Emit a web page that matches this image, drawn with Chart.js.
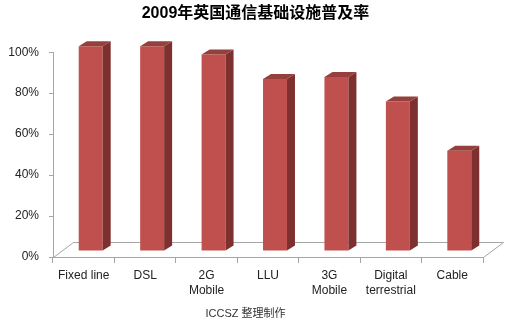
<!DOCTYPE html>
<html>
<head>
<meta charset="utf-8">
<script src="https://cdn.jsdelivr.net/npm/chart.js@4/dist/chart.umd.min.js"></script>
<style>
  html, body { margin: 0; padding: 0; background: #fff; }
  #wrap { width: 511px; height: 326px; }
</style>
</head>
<body>
<div id="wrap"><canvas id="c" width="511" height="326"></canvas></div>
<script>
/* data */
const CATEGORIES = [['Fixed line'], ['DSL'], ['2G', 'Mobile'], ['LLU'], ['3G', 'Mobile'], ['Digital', 'terrestrial'], ['Cable']];
const PENETRATION = [100, 100, 96, 84, 85, 73, 49];
const Y_TICKS = [0, 20, 40, 60, 80, 100];
const TITLE = '2009年英国通信基础设施普及率';
const SOURCE = 'ICCSZ 整理制作';

const FRONT = '#C0504D', TOP = '#96403D', SIDE = '#7E302E';
const GRID = '#A6A6A6';
const FONT = '"Liberation Sans", Arial, "Noto Sans CJK SC", sans-serif';

// fake 3D: floor depth + bar depth
const FLOOR = { dx: 20, dy: 15 };
const BAR_SHIFT = { dx: 7, dy: -6 };
const BAR_DEPTH = { dx: 8, dy: -5 };

const threeD = {
  id: 'threeD',
  beforeDatasetsDraw(chart) {
    const { ctx, chartArea: a } = chart;
    ctx.save();
    ctx.strokeStyle = GRID;
    ctx.lineWidth = 1;
    ctx.beginPath();
    ctx.moveTo(a.left + 0.5, a.bottom + 0.5);
    ctx.lineTo(a.left + FLOOR.dx + 0.5, a.bottom - FLOOR.dy + 0.5);
    ctx.lineTo(a.right + FLOOR.dx + 0.5, a.bottom - FLOOR.dy + 0.5);
    ctx.lineTo(a.right + 0.5, a.bottom + 0.5);
    ctx.stroke();
    ctx.restore();
    ctx.save();
    ctx.translate(BAR_SHIFT.dx, BAR_SHIFT.dy);
  },
  afterDatasetsDraw(chart) {
    const { ctx } = chart;
    chart.getDatasetMeta(0).data.forEach(bar => {
      const { x, y, base, width } = bar.getProps(['x', 'y', 'base', 'width'], true);
      const l = x - width / 2, r = x + width / 2;
      ctx.fillStyle = SIDE;
      ctx.beginPath();
      ctx.moveTo(r, y);
      ctx.lineTo(r + BAR_DEPTH.dx, y + BAR_DEPTH.dy);
      ctx.lineTo(r + BAR_DEPTH.dx, base + BAR_DEPTH.dy);
      ctx.lineTo(r, base);
      ctx.closePath();
      ctx.fill();
      ctx.fillStyle = TOP;
      ctx.beginPath();
      ctx.moveTo(l, y);
      ctx.lineTo(l + BAR_DEPTH.dx, y + BAR_DEPTH.dy);
      ctx.lineTo(r + BAR_DEPTH.dx, y + BAR_DEPTH.dy);
      ctx.lineTo(r, y);
      ctx.closePath();
      ctx.fill();
    });
    ctx.restore();
  },
  afterDraw(chart) {
    // source note, a bit left of centre like the original
    const { ctx, width, height } = chart;
    ctx.save();
    ctx.font = '11px ' + FONT;
    ctx.fillStyle = '#333';
    ctx.textAlign = 'center';
    ctx.textBaseline = 'middle';
    ctx.fillText(SOURCE, width / 2 - 10, height - 12);
    ctx.restore();
  }
};

new Chart(document.getElementById('c'), {
  type: 'bar',
  data: {
    labels: CATEGORIES,
    datasets: [{
      data: PENETRATION,
      backgroundColor: FRONT,
      borderWidth: 0,
      barPercentage: 0.39,
      categoryPercentage: 1,
      clip: false
    }]
  },
  options: {
    responsive: false,
    animation: false,
    events: [],
    layout: { padding: { left: 0, right: 0, top: 0, bottom: 21 } },
    plugins: {
      legend: { display: false },
      tooltip: { enabled: false },
      title: {
        display: true,
        text: TITLE,
        color: '#000',
        font: { family: FONT, size: 16, weight: 'bold' },
        padding: { top: 4, bottom: 29 }
      }
    },
    scales: {
      y: {
        min: 0, max: 100,
        afterBuildTicks: s => { s.ticks = Y_TICKS.map(v => ({ value: v })); },
        afterFit: s => { s.width = 53; },
        ticks: {
          callback: v => v + '%',
          color: '#222',
          padding: 10,
          font: { family: FONT, size: 12 }
        },
        grid: { drawOnChartArea: false, tickLength: 4, color: GRID },
        border: { color: GRID }
      },
      yRight: {
        position: 'right',
        afterFit: s => { s.width = 28; },
        ticks: { display: false },
        grid: { display: false },
        border: { display: false }
      },
      x: {
        afterFit: s => { s.height = 48; },
        ticks: {
          color: '#222',
          padding: 5,
          maxRotation: 0,
          autoSkip: false,
          font: { family: FONT, size: 12, lineHeight: 1.25 }
        },
        grid: { offset: true, drawOnChartArea: false, tickLength: 6, color: GRID },
        border: { color: GRID }
      }
    }
  },
  plugins: [threeD]
});
</script>
</body>
</html>
